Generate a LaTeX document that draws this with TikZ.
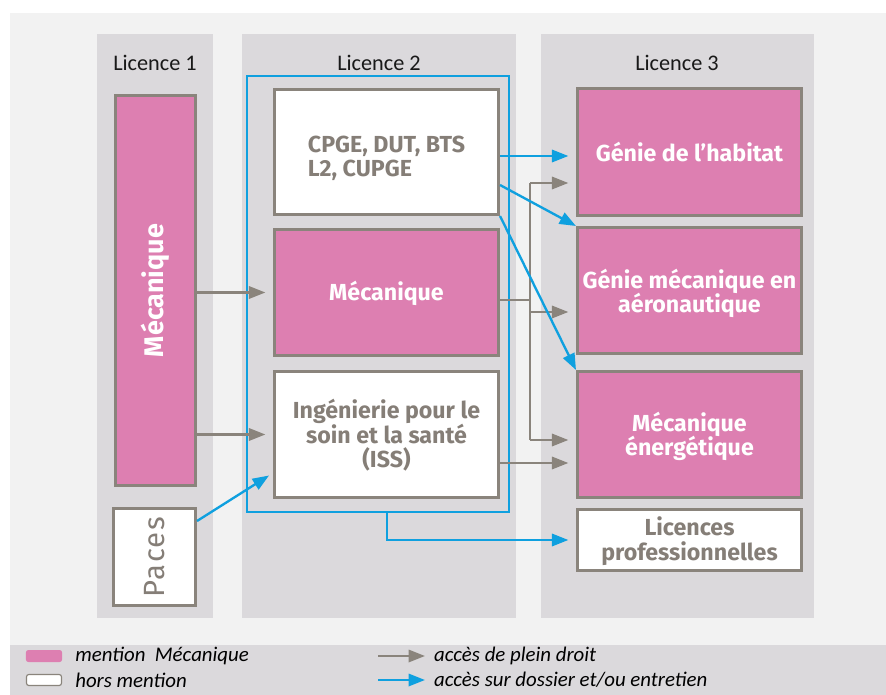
\documentclass[tikz,border=0pt]{standalone}
\usepackage{fontspec}
\setmainfont{Fira Sans}
\newfontfamily\titlefont{Carlito}
\definecolor{rose}{HTML}{DD7FB1}
\definecolor{bordgris}{HTML}{8A847C}
\definecolor{textgris}{HTML}{857E77}
\definecolor{bleu}{HTML}{0FA0DF}
\definecolor{colgris}{HTML}{DBD9DC}
\definecolor{fondgris}{HTML}{F2F2F2}
\usetikzlibrary{arrows.meta, positioning}
\tikzset{
  boite/.style={draw=bordgris, line width=2.6pt, minimum width=6.72cm, inner sep=2pt,
    align=center, font=\bfseries\fontsize{19.8}{21}\selectfont},
  mention/.style={boite, fill=rose, text=white},
  hors/.style={boite, fill=white, text=textgris},
  plein/.style={draw=bordgris, line width=2pt, -{Triangle[length=14pt,width=10.5pt]}},
  dossier/.style={draw=bleu, line width=2pt, -{Triangle[length=14pt,width=10.5pt]}},
  titre/.style={font=\titlefont\fontsize{19}{19}\selectfont, text=black!90},
  legende/.style={font=\titlefont\itshape\fontsize{17.8}{17.8}\selectfont, anchor=west, inner sep=0pt}
}

\begin{document}
\begin{tikzpicture}[x=0.03cm, y=-0.03cm]
        \useasboundingbox (0,0) rectangle (886,695);
        % Background and the three columns
        \fill[white] (0,0) rectangle (886,695);
        \fill[fondgris] (10,13) rectangle (886,695);
        \fill[colgris] (10,645) rectangle (886,695);
        \fill[colgris] (97,34) rectangle (213,618);
        \fill[colgris] (242,34) rectangle (516,618);
        \fill[colgris] (541,34) rectangle (814,618);

        \node[titre] (t1) at (155,63) {Licence 1};
        \node[titre] (t2) at (379,63) {Licence 2};
        \node[titre] (t3) at (677,63) {Licence 3};

        % Licence 1
        \node[mention, minimum width=2.40cm, minimum height=11.70cm, font=\bfseries\fontsize{23}{23}\selectfont] (mecL1) at (155.5,290.5) {\rotatebox{90}{Mécanique}};
        \node[hors, minimum width=2.46cm, minimum height=2.91cm, font=\fontsize{25}{25}\selectfont\addfontfeature{LetterSpace=5}] (paces) at (154.5,557) {\rotatebox{90}{Paces}};

        % Licence 2
        \node[draw=bleu, line width=2pt, minimum width=7.86cm, minimum height=13.08cm] (cadre) at (378,294) {};
        \node[hors, minimum height=3.75cm, align=left] (cpge) at (386.5,152) {\\[4pt]CPGE, DUT, BTS\\L2, CUPGE};
        \node[mention, minimum height=3.78cm] (mecL2) at (386.5,292.5) {\\[-3pt]Mécanique};
        \node[hors, minimum height=3.78cm] (iss) at (386.5,434.5) {\\[-3pt]Ingénierie pour le\\soin et la santé\\(ISS)};

        % Licence 3
        \node[mention, minimum height=3.81cm] (habitat) at (689.5,152) {Génie de l’habitat};
        \node[mention, minimum height=3.78cm] (aero) at (689.5,290.5) {\\[0.5pt]Génie mécanique en\\aéronautique};
        \node[mention, minimum height=3.78cm] (energ) at (689.5,434.5) {\\[-1pt]Mécanique\\énergétique};
        \node[hors, minimum height=1.83cm] (lp) at (689.5,540) {\\[-3pt]Licences\\professionnelles};

        % Acces de plein droit
        \coordinate (tronchaut) at (530,183);
        \coordinate (troncbas) at (530,440);
        \draw[plein, shorten >=6.5pt] (mecL1.east |- mecL2.west) -- (mecL2.west);
        \draw[plein, shorten >=6.5pt] (mecL1.east |- iss.west) -- (iss.west);
        \draw[bordgris, line width=2pt] (mecL2.east |- 0,300) -- (530,300);
        \draw[bordgris, line width=2pt] (tronchaut) -- (troncbas);
        \draw[plein, shorten >=6.5pt] (tronchaut) -- (tronchaut -| habitat.west);
        \draw[plein, shorten >=6.5pt] (530,312) -- (aero.west |- 0,312);
        \draw[plein, shorten >=6.5pt] (troncbas) -- (troncbas -| energ.west);
        \draw[plein, shorten >=6.5pt] (iss.east |- 0,463) -- (energ.west |- 0,463);

        % Acces sur dossier
        \draw[dossier, shorten >=6.5pt] (cpge.east |- 0,156) -- (habitat.west |- 0,156);
        \draw[dossier] (cpge.east |- 0,185) -- (aero.north west);
        \draw[dossier] (cpge.south east) -- (energ.north west);
        \draw[dossier, shorten >=4pt] (paces.east |- 0,521) -- (iss.west |- 0,473);
        \draw[dossier, shorten >=6.5pt] (cadre.south -| 387,0) |- (lp.west);

        % Legend
        \node[fill=rose, rounded corners=2pt, minimum width=1.08cm, minimum height=0.36cm, inner sep=0pt] (lrose) at (44,656) {};
        \node[draw=bordgris, fill=white, line width=1pt, rounded corners=2pt, minimum width=1.05cm, minimum height=0.33cm, inner sep=0pt] (lblanc) at (44,680) {};
        \node[legende, right=0.39cm of lrose] (tmention) {mention\ \ Mécanique};
        \node[legende, right=0.39cm of lblanc] (thors) {hors mention};
        \node[legende] (tplein) at (434,656) {accès de plein droit};
        \node[legende] (tdossier) at (434,680) {accès sur dossier et/ou entretien};
        \draw[plein] ([xshift=-1.68cm]tplein.west) -- ([xshift=-0.27cm]tplein.west);
        \draw[dossier] ([xshift=-1.68cm]tdossier.west) -- ([xshift=-0.27cm]tdossier.west);
\end{tikzpicture}
\end{document}
